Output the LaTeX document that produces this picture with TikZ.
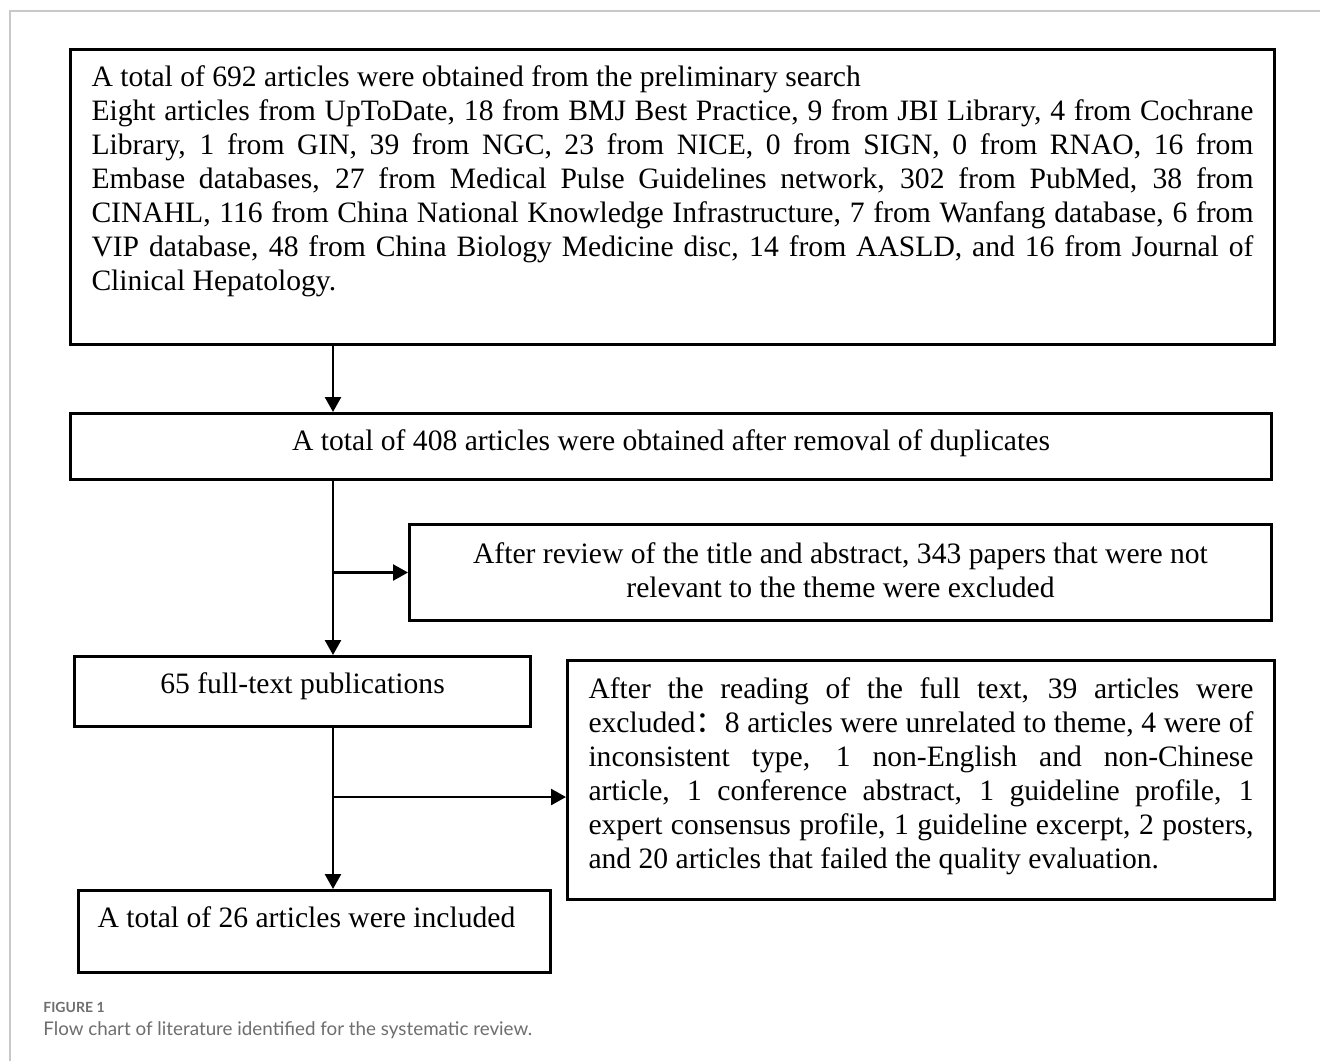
\documentclass[tikz,border=0pt]{standalone}
\usepackage{fontspec}
\setmainfont{Liberation Serif}
\newfontfamily\capfont{Lato}
\newfontfamily\cjk{Noto Sans CJK SC}
\usetikzlibrary{arrows.meta}
\definecolor{framegray}{RGB}{200,200,200}
\definecolor{capgray}{RGB}{110,110,110}
\tikzset{
  box/.style ={draw, line width=1.5pt, inner sep=0pt, anchor=north west, font=\fontsize{14.8}{17}\selectfont},
  arr/.style ={-{Triangle[length=7.5pt,width=8pt]}, line width=1.25pt},
  captext/.style ={anchor=base west, inner sep=0pt, text=capgray},
}

\begin{document}
\begin{tikzpicture}[x=0.5pt,y=-0.5pt]
  \useasboundingbox (0,0) rectangle (1320,1061);
  \fill[white] (0,0) rectangle (1320,1061);
  \draw[framegray, line width=1pt] (10,1061) -- (10,11) -- (1320,11);
  % boxes
  \node[box, inner xsep=10.5pt] (search) at (69,48) {\parbox[c][147.5pt][t]{581pt}{\rule{0pt}{18.5pt}A total of 692 articles were obtained from the preliminary search\\
    Eight articles from UpToDate, 18 from BMJ Best Practice, 9 from JBI Library, 4 from Cochrane\linebreak
    Library, 1 from GIN, 39 from NGC, 23 from NICE, 0 from SIGN, 0 from RNAO, 16 from\linebreak
    Embase databases, 27 from Medical Pulse Guidelines network, 302 from PubMed, 38 from\linebreak
    CINAHL, 116 from China National Knowledge Infrastructure, 7 from Wanfang database, 6 from\linebreak
    VIP database, 48 from China Biology Medicine disc, 14 from AASLD, and 16 from Journal of\linebreak
    Clinical Hepatology.}};
  \node[box] (dedup) at (69,412) {\parbox[c][33pt][t]{600.5pt}{\centering\rule{0pt}{18.5pt}A total of 408 articles were obtained after removal of duplicates}};
  \node[box] (title) at (408,523) {\parbox[c][48pt][t]{431pt}{\centering\rule{0pt}{19.5pt}After review of the title and abstract, 343 papers that were not\\ relevant to the theme were excluded}};
  \node[box] (full) at (73,655) {\parbox[c][35pt][t]{228pt}{\centering\rule{0pt}{18.5pt}65 full-text publications}};
  \node[box, inner xsep=10.5pt] (fullex) at (566,659) {\parbox[c][119.5pt][t]{332.5pt}{\rule{0pt}{19pt}After the reading of the full text, 39 articles were\linebreak
    excluded{\cjk ：}8 articles were unrelated to theme, 4 were of\linebreak
    inconsistent type, 1 non-English and non-Chinese\linebreak
    article, 1 conference abstract, 1 guideline profile, 1\linebreak
    expert consensus profile, 1 guideline excerpt, 2 posters,\linebreak
    and 20 articles that failed the quality evaluation.}};
  \node[box] (included) at (77,889) {\parbox[c][41pt][t]{236pt}{\centering\rule{0pt}{18.5pt}A total of 26 articles were included\hspace*{8pt}}};
  % connectors
  \coordinate (trunk) at (333,0);
  \coordinate (fork1) at (trunk |- title.west);
  \coordinate (fork2) at (333,797);
  \draw[arr] (search.south -| trunk) -- (dedup.north -| trunk);
  \draw[arr] (dedup.south -| trunk) -- (full.north -| trunk);
  \draw[arr] (fork1) -- (title.west);
  \draw[arr] (full.south -| trunk) -- (included.north -| trunk);
  \draw[arr] (fork2) -- (fork2 -| fullex.west);
  % caption
  \node[captext, font=\capfont\bfseries\fontsize{7}{9}\selectfont] (figlabel) at (43,1012) {FIGURE 1};
  \node[captext, font=\capfont\fontsize{9.4}{12}\selectfont] (figcaption) at (43,1035) {Flow chart of literature identified for the systematic review.};
\end{tikzpicture}
\end{document}
